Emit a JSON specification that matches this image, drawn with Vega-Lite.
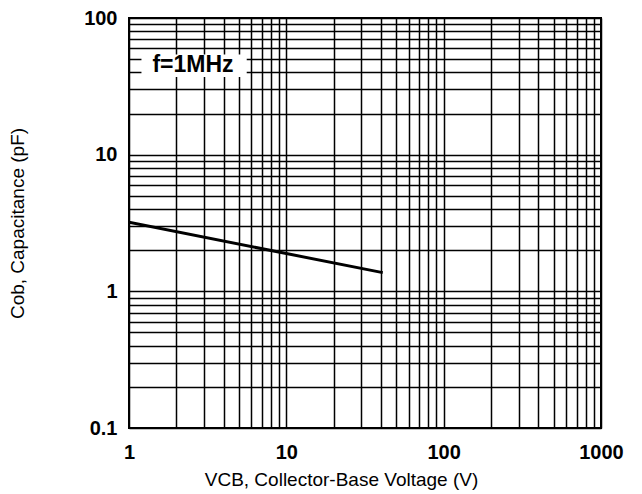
{
  "$schema": "https://vega.github.io/schema/vega-lite/v6.json",
  "autosize": "none",
  "padding": {"left": 129, "top": 18, "right": 41, "bottom": 66},
  "width": 472,
  "height": 410,
  "background": "white",
  "config": {
    "view": {"stroke": "#000", "strokeWidth": 2},
    "axis": {
      "gridColor": "#000", "gridOpacity": 1, "gridWidth": 1.5,
      "ticks": false, "domain": false,
      "labelFont": "Liberation Sans", "labelFontWeight": "bold", "labelFontSize": 20, "labelColor": "#000",
      "titleFont": "Liberation Sans", "titleFontWeight": "normal", "titleFontSize": 19, "titleColor": "#000"
    }
  },
  "datasets": {
    "curve": [
      {"v": 1, "c": 3.2},
      {"v": 10, "c": 1.89},
      {"v": 41, "c": 1.37}
    ],
    "note": [
      {"x1": 1.2, "x2": 5.6, "y1": 37, "y2": 54, "xt": 2.55, "yt": 45, "label": "f=1MHz"}
    ]
  },
  "layer": [
    {
      "data": {"name": "curve"},
      "mark": {"type": "line", "color": "#000", "strokeWidth": 3, "clip": true},
      "encoding": {
        "x": {
          "field": "v", "type": "quantitative",
          "scale": {"type": "log", "domain": [1, 1000], "nice": false},
          "axis": {
            "values": [1,2,3,4,5,6,7,8,9,10,20,30,40,50,60,70,80,90,100,200,300,400,500,600,700,800,900,1000],
            "labelExpr": "indexof([1,10,100,1000], datum.value) >= 0 ? '' + datum.value : ''",
            "labelPadding": 14, "labelFlush": false, "labelOverlap": false,
            "title": "VCB, Collector-Base Voltage (V)", "titlePadding": 8, "titleX": 212, "titleAlign": "center"
          }
        },
        "y": {
          "field": "c", "type": "quantitative",
          "scale": {"type": "log", "domain": [0.1, 100], "nice": false},
          "axis": {
            "values": [0.1,0.2,0.3,0.4,0.5,0.6,0.7,0.8,0.9,1,2,3,4,5,6,7,8,9,10,20,30,40,50,60,70,80,90,100],
            "labelExpr": "indexof([0.1,1,10,100], datum.value) >= 0 ? '' + datum.value : ''",
            "labelPadding": 12, "labelFlush": false, "labelOverlap": false,
            "title": "Cob, Capacitance (pF)", "titlePadding": 56
          }
        }
      }
    },
    {
      "data": {"name": "note"},
      "mark": {"type": "rect", "color": "white", "opacity": 1},
      "encoding": {
        "x": {"field": "x1", "type": "quantitative"},
        "x2": {"field": "x2"},
        "y": {"field": "y1", "type": "quantitative"},
        "y2": {"field": "y2"}
      }
    },
    {
      "data": {"name": "note"},
      "mark": {"type": "text", "font": "Liberation Sans", "fontWeight": "bold", "fontSize": 23, "color": "#000", "align": "center", "baseline": "middle"},
      "encoding": {
        "x": {"field": "xt", "type": "quantitative"},
        "y": {"field": "yt", "type": "quantitative"},
        "text": {"field": "label"}
      }
    }
  ]
}
